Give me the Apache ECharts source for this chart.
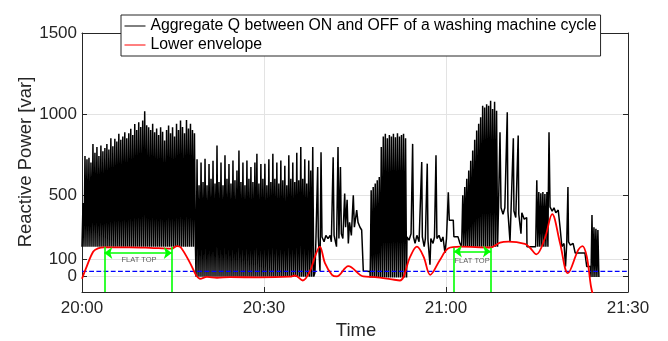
<!DOCTYPE html>
<html><head><meta charset="utf-8">
<script src="https://cdn.jsdelivr.net/npm/echarts@6/dist/echarts.min.js"></script>
<style>html,body{margin:0;padding:0;background:#fff}#c{width:668px;height:341px}</style>
</head><body><div id="c"></div>
<script>
// ---- tick labels ----
const timeTicks = ['20:00', '20:30', '21:00', '21:30']; // minutes 0,30,60,90 after 20:00
const yTicks = [0, 100, 500, 1000, 1500];

// ---- Aggregate Q (minutes after 20:00, var) ----
// dense switching segments: time span, low level, pulse peaks
const segA_time = [0, 18.7], segA_low = 180;
const segA_peaks = [450, 740, 720, 730, 700, 815, 760, 795, 740, 805, 770, 790,
  815, 780, 850, 800, 846, 830, 877, 840, 860, 887, 850, 880,
  908, 870, 938, 900, 948, 920, 960, 1016, 930, 918, 900, 940,
  887, 910, 870, 918, 890, 836, 900, 928, 880, 918, 860, 940,
  900, 959, 920, 880, 963, 910, 940, 900, 880];
const segB_time = [18.8, 38.2], segB_low = -5;
const segB_peaks = [720, 560, 700, 580, 723, 560, 690, 600, 710, 570,
  805, 580, 700, 560, 744, 600, 690, 570, 713, 590,
  650, 774, 580, 700, 560, 713, 600, 672, 580, 700,
  754, 570, 690, 600, 692, 560, 720, 580, 754, 600,
  700, 570, 713, 590, 680, 560, 744, 600, 700, 580,
  760, 590, 795, 600, 720, 570, 713, 650, 795];
const segC_points = [[38.4, 20], [38.57, 240], [38.85, 672], [38.95, 240], [39.23, 30], [39.4, 764],
  [39.56, 240], [39.9, 210], [40.2, 250], [40.55, 230], [40.9, 250], [41.1, 210], [41.4, 733],
  [41.55, 250], [41.8, 260], [41.95, 180], [42.2, 795], [42.35, 230], [42.6, 672], [42.75, 260],
  [43.0, 230], [43.3, 508], [43.45, 300], [43.7, 470], [43.9, 200], [44.1, 330], [44.4, 250],
  [44.72, 498], [44.9, 300], [45.28, 406], [45.5, 330], [45.82, 300], [46.1, 283], [46.37, 30], [47.47, 26]];
const segD_time = [47.5, 53.5], segD_low = -10;
const segD_peaks = [528, 549, 570, 590, 610, 795, 860, 878, 850, 870, 860, 877, 856, 880, 860, 870, 877, 850];
const segE_points = [[53.57, 240], [53.9, 220], [54.24, 260], [54.5, 815], [54.65, 240], [54.9, 200],
  [55.2, 250], [55.56, 210], [56.0, 703], [56.1, 240], [56.4, 180], [56.6, 230], [56.91, 693],
  [57.03, 220], [57.36, 68], [57.5, 230], [57.86, 200], [58.1, 240], [58.35, 744], [58.5, 230],
  [58.85, 250], [59.2, 210], [59.5, 240], [59.83, 141], [60.08, 230], [60.38, 516], [60.54, 344],
  [61.2, 344], [61.3, 242], [61.97, 242], [62.3, 200], [62.58, 180]];
const segG_time = [62.6, 68.5], segG_low = 180;
const segG_peaks = [498, 549, 600, 651, 710, 774, 840, 897, 940, 979, 1051, 1040, 1060, 1051, 1082, 1031, 1075, 1020];
const segH_points = [[68.66, 430], [68.9, 887], [69.07, 420], [69.4, 380], [69.7, 420], [70.1, 1010],
  [70.2, 400], [70.55, 211], [70.7, 380], [71.1, 850], [71.2, 400], [71.5, 360], [71.9, 867],
  [72.0, 380], [72.36, 260], [72.5, 390], [72.9, 350], [73.3, 360], [73.35, 180], [74.78, 180]];
const segI_time = [74.8, 76.8], segI_low = 180;
const segI_peaks = [590, 518, 510, 518, 505, 518];
const segK_points = [[76.85, 430], [76.98, 887], [77.15, 426], [77.5, 400], [77.8, 420], [78.1, 390],
  [78.5, 406], [78.8, 300], [79.1, 180], [79.45, 200], [79.7, 57], [79.9, 201], [80.1, 549],
  [80.2, 210], [80.5, 190], [80.95, 200], [81.3, 141], [81.8, 141], [82.1, 150], [82.4, 141],
  [82.9, 141], [83.2, 57], [83.8, 57]];
const segJ_time = [83.9, 85.2], segJ_low = -8;
const segJ_peaks = [375, 300, 290, 283];

// ---- Lower envelope ----
const envT = [0, 0.77, 1.86, 2.64, 3.63, 7.91, 11.2, 14.8, 15.66, 16.3, 17.8, 18.8, 19.45, 20.6, 22.25,
  24.4, 29.3, 34.3, 35.1, 36.4, 37.6, 38.4, 39.2, 40.05, 41.2, 42.0, 43.9, 46.4, 48.3, 50.8, 52.4,
  54.1, 55.2, 56.3, 57.4, 59.0, 60.4, 62.3, 67.3, 68.9, 70.3, 73.0, 73.8, 74.9, 76.3, 77.5, 78.8,
  80.1, 81.8, 82.5, 83.2, 83.9, 84.3];
const envV = [-18, 57, 150, 170, 176, 176, 173, 168, 184, 175, 80, 5, -18, -6, -12,
  -8, -10, -5, 2, -29, 30, 119, 180, 78, 6, -4, 60, -4, -8, -20, -29,
  119, 180, 119, 6, 98, 170, 180, 175, 205, 211, 197, 175, 133, 232, 381, 201,
  16, 160, 184, 119, -66, -130];

// ---- annotations ----
const thresholdLevel = 27;
const flatTop1 = [3.68, 14.8], flatTop1Height = 178, flatTop1Arrow = 141, flatTop1Label = [9.4, 98];
const flatTop2 = [61.3, 67.4], flatTop2Height = 174, flatTop2Arrow = 150, flatTop2Label = [64.3, 92];

function dense(range, low, peaks) {
  const t0 = range[0], t1 = range[1], n = peaks.length, step = (t1 - t0) / n;
  const out = [];
  peaks.forEach((p, i) => { const t = t0 + i * step; out.push([t, low], [t + step / 2, p]); });
  out.push([t1, low]);
  return out;
}
const aggregate = [].concat([[0, 180]],
  dense(segA_time, segA_low, segA_peaks),
  dense(segB_time, segB_low, segB_peaks),
  segC_points,
  dense(segD_time, segD_low, segD_peaks),
  segE_points,
  dense(segG_time, segG_low, segG_peaks),
  segH_points,
  dense(segI_time, segI_low, segI_peaks),
  segK_points,
  dense(segJ_time, segJ_low, segJ_peaks));
const envelope = envT.map((t, i) => [t, envV[i]]);

const AX = '#262626', GRID = '#e3e3e3', GREEN = '#00ff00', BLUE = '#0000ff';
const FONT = 'Liberation Sans, Arial, sans-serif';
const NAME1 = 'Aggregate Q between ON and OFF of a washing machine cycle';
const NAME2 = 'Lower envelope';

function vline(x, h) {
  return [{ coord: [x, -100], symbol: 'none' }, { coord: [x, h], symbol: 'none' }];
}
function arrow(r, y) {
  return [{ coord: [r[0], y], symbol: 'arrow' }, { coord: [r[1], y], symbol: 'arrow' }];
}
const labelStyle = { fontSize: 17, color: AX, margin: 5, fontFamily: FONT, hideOverlap: false, formatter: v => String(v) };

const chart = echarts.init(document.getElementById('c'), null, { renderer: 'canvas' });
chart.setOption({
  animation: false,
  backgroundColor: '#fff',
  grid: { left: 82, right: 40, top: 33, bottom: 49 },
  xAxis: [{
    type: 'value', min: 0, max: 90, interval: 30, position: 'bottom',
    axisLine: { show: true, onZero: false, lineStyle: { color: AX, width: 1 } },
    axisTick: { show: true, inside: true, length: 5, lineStyle: { color: AX } },
    axisLabel: { formatter: v => timeTicks[Math.round(v / 30)], fontSize: 17, color: AX, margin: 8, fontFamily: FONT },
    splitLine: { show: true, lineStyle: { color: GRID, width: 1 } }
  }, {
    type: 'value', min: 0, max: 90, interval: 30, position: 'top',
    axisLine: { show: true, onZero: false, lineStyle: { color: AX, width: 1 } },
    axisTick: { show: true, inside: true, length: 5, lineStyle: { color: AX } },
    axisLabel: { show: false }, splitLine: { show: false }
  }],
  yAxis: [{
    type: 'value', min: -100, max: 1500, position: 'left',
    axisLine: { show: true, onZero: false, lineStyle: { color: AX, width: 1 } },
    axisTick: { show: true, inside: true, length: 5, lineStyle: { color: AX }, customValues: yTicks },
    axisLabel: Object.assign({ customValues: yTicks.slice(1) }, labelStyle),
    splitLine: { show: true, lineStyle: { color: GRID, width: 1 } }
  }, {
    type: 'value', min: -100, max: 1500, position: 'right',
    axisLine: { show: true, onZero: false, lineStyle: { color: AX, width: 1 } },
    axisTick: { show: true, inside: true, length: 5, lineStyle: { color: AX }, customValues: yTicks },
    axisLabel: { show: false, customValues: yTicks }, splitLine: { show: false }
  }, {
    type: 'value', min: -100, max: 1500, position: 'left', offset: 0,
    axisLine: { show: false, onZero: false }, axisTick: { show: false, customValues: yTicks.slice(0, 1) },
    axisLabel: Object.assign({ customValues: yTicks.slice(0, 1) }, labelStyle),
    splitLine: { show: false }
  }],
  legend: {
    data: [NAME1, NAME2], orient: 'vertical', left: 121, top: 15,
    padding: [3, 4, 3, 3], itemGap: 3, itemWidth: 21, itemHeight: 16,
    backgroundColor: '#fff', borderColor: AX, borderWidth: 1, borderRadius: 0,
    textStyle: { fontSize: 15.8, color: '#000', fontFamily: FONT, lineHeight: 16 },
    itemStyle: { opacity: 0 },
    lineStyle: { width: 1 }
  },
  graphic: [
    { type: 'text', x: 26, y: 162, rotation: Math.PI / 2,
      style: { text: 'Reactive Power [var]', fontSize: 18.5, fontFamily: FONT, fill: AX, align: 'center', verticalAlign: 'middle' } },
    { type: 'text', x: 356, y: 331,
      style: { text: 'Time', fontSize: 18.5, fontFamily: FONT, fill: AX, align: 'center', verticalAlign: 'middle' } }
  ],
  series: [{
    name: NAME1, type: 'line', data: aggregate, symbol: 'none', z: 2, color: '#000',
    lineStyle: { color: '#000', width: 1.5 }, itemStyle: { color: '#000' }
  }, {
    name: 'threshold', type: 'line', data: [[0, thresholdLevel], [90, thresholdLevel]], symbol: 'none', z: 3,
    color: BLUE, itemStyle: { color: BLUE },
    lineStyle: { color: BLUE, width: 1.2, type: 'dashed', dashOffset: 0, opacity: 1 }, silent: true
  }, {
    name: NAME2, type: 'line', data: envelope, symbol: 'none', smooth: 0.35, z: 4, color: '#ff0000',
    lineStyle: { color: '#ff0000', width: 1.8 }, itemStyle: { color: '#ff0000' }
  }, {
    name: 'flat', type: 'line', data: [], symbol: 'none', z: 5,
    markLine: {
      silent: true, animation: false, symbolSize: [9, 8],
      lineStyle: { color: GREEN, width: 1.6, type: 'solid' }, label: { show: false },
      emphasis: { disabled: true },
      data: [vline(flatTop1[0], flatTop1Height), vline(flatTop1[1], flatTop1Height),
        vline(flatTop2[0], flatTop2Height), vline(flatTop2[1], flatTop2Height),
        arrow(flatTop1, flatTop1Arrow), arrow(flatTop2, flatTop2Arrow)]
    }
  }, {
    name: 'flatLabel', type: 'scatter', data: [flatTop1Label, flatTop2Label], symbolSize: 1, z: 6,
    itemStyle: { color: 'rgba(0,0,0,0)' }, silent: true,
    label: { show: true, position: 'inside', formatter: 'FLAT TOP', fontSize: 7.5, color: '#333', fontFamily: FONT }
  }]
});
</script></body></html>
